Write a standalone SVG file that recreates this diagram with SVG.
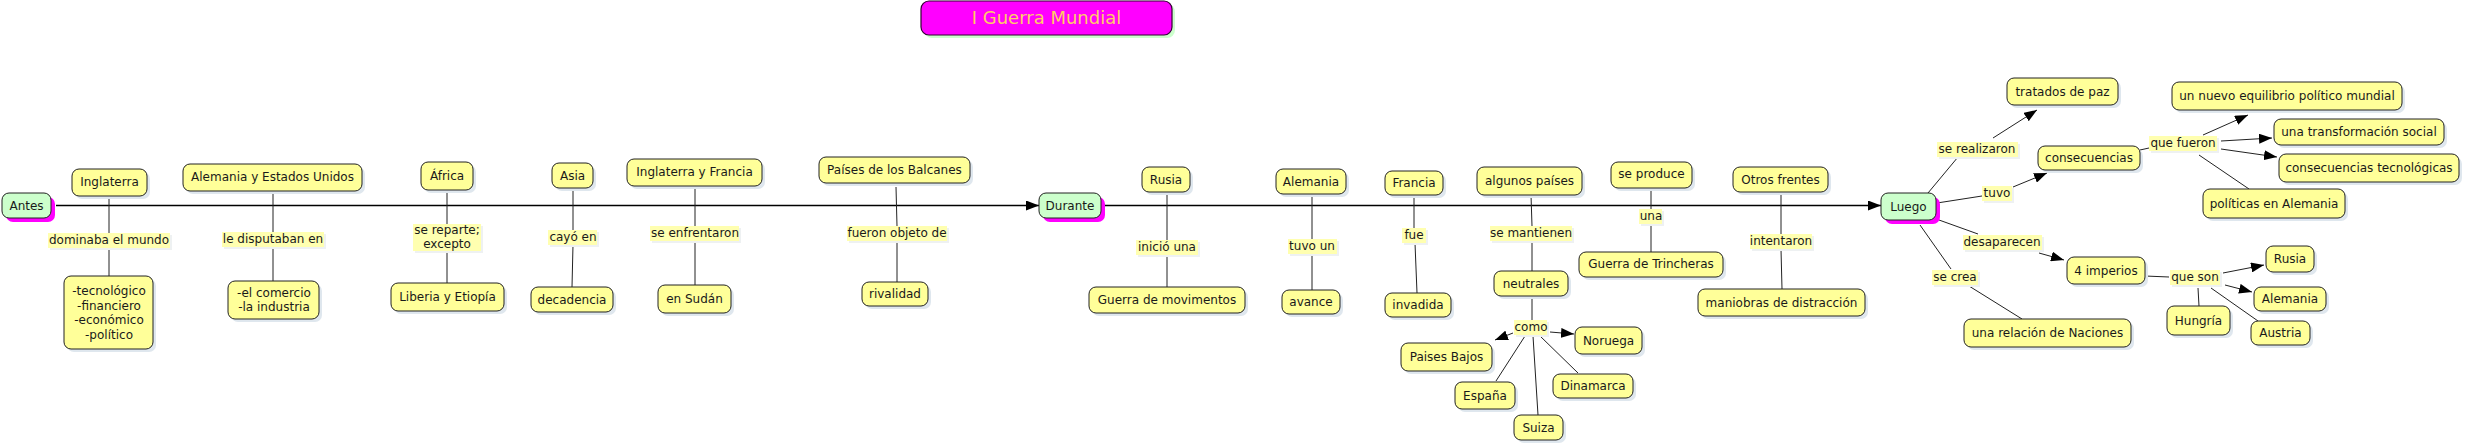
<svg xmlns="http://www.w3.org/2000/svg" width="2466" height="446" viewBox="0 0 2466 446">
<style>
.n{fill:#ffff99;stroke:#222;stroke-width:1}
.sh{fill:#dfe7ee}
.g{fill:#ccffcc;stroke:#222;stroke-width:1}
.gs{fill:#ff00ff}
.t{font-family:"DejaVu Sans",Verdana,sans-serif;font-size:12px;fill:#1a1a1a;text-anchor:middle}
.lb{fill:#ffffb0}
.ls{fill:#eef1f2}
.c{stroke:#222;stroke-width:1;fill:none}
.m{stroke:#000;stroke-width:1.3;fill:none}
</style>
<defs>
<marker id="ah" markerWidth="13" markerHeight="10" refX="13" refY="5" orient="auto" markerUnits="userSpaceOnUse"><path d="M0,0 L13,5 L0,10 z" fill="#000"/></marker>
</defs>
<rect width="2466" height="446" fill="#fff"/>

<g id="connectors">
<line class="m" x1="56" y1="205.5" x2="1039" y2="205.5" marker-end="url(#ah)"/>
<line class="m" x1="1105" y1="205.5" x2="1881" y2="205.5" marker-end="url(#ah)"/>
<line class="c" x1="109" y1="196" x2="109" y2="233"/><line class="c" x1="109" y1="248" x2="109" y2="276"/>
<line class="c" x1="273" y1="191" x2="273" y2="232"/><line class="c" x1="273" y1="247" x2="273" y2="281"/>
<line class="c" x1="447" y1="190" x2="447" y2="224"/><line class="c" x1="447" y1="251" x2="447" y2="283"/>
<line class="c" x1="573" y1="188" x2="573" y2="230"/><line class="c" x1="573" y1="245" x2="572" y2="287"/>
<line class="c" x1="695" y1="186" x2="695" y2="226"/><line class="c" x1="695" y1="241" x2="695" y2="285"/>
<line class="c" x1="896" y1="187" x2="897" y2="226"/><line class="c" x1="897" y1="241" x2="897" y2="282"/>
<line class="c" x1="1167" y1="192" x2="1167" y2="240"/><line class="c" x1="1167" y1="255" x2="1167" y2="287"/>
<line class="c" x1="1312" y1="194" x2="1312" y2="239"/><line class="c" x1="1312" y1="254" x2="1312" y2="290"/>
<line class="c" x1="1414" y1="197" x2="1414" y2="228"/><line class="c" x1="1415" y1="243" x2="1417" y2="293"/>
<line class="c" x1="1531" y1="195" x2="1532" y2="226"/><line class="c" x1="1532" y1="241" x2="1532" y2="271"/>
<line class="c" x1="1532" y1="296" x2="1532" y2="320"/>
<line class="c" x1="1513" y1="333" x2="1495" y2="340" marker-end="url(#ah)"/>
<line class="c" x1="1550" y1="332" x2="1574" y2="334" marker-end="url(#ah)"/>
<line class="c" x1="1525" y1="336" x2="1496" y2="381"/>
<line class="c" x1="1533" y1="336" x2="1538" y2="415"/>
<line class="c" x1="1539" y1="335" x2="1578" y2="373"/>
<line class="c" x1="1651" y1="188" x2="1651" y2="209"/><line class="c" x1="1651" y1="224" x2="1651" y2="252"/>
<line class="c" x1="1781" y1="192" x2="1781" y2="234"/><line class="c" x1="1781" y1="249" x2="1782" y2="289"/>
<line class="c" x1="1928" y1="193" x2="1958" y2="157"/><line class="c" x1="1993" y1="138" x2="2037" y2="110" marker-end="url(#ah)"/>
<line class="c" x1="1937" y1="203" x2="1982" y2="196"/><line class="c" x1="2013" y1="187" x2="2047" y2="173" marker-end="url(#ah)"/>
<line class="c" x1="2140" y1="150" x2="2149" y2="148"/>
<line class="c" x1="2203" y1="135" x2="2248" y2="115" marker-end="url(#ah)"/>
<line class="c" x1="2221" y1="141" x2="2272" y2="138" marker-end="url(#ah)"/>
<line class="c" x1="2221" y1="149" x2="2277" y2="157" marker-end="url(#ah)"/>
<line class="c" x1="2199" y1="155" x2="2249" y2="189"/>
<line class="c" x1="1939" y1="220" x2="1978" y2="234"/><line class="c" x1="2039" y1="253" x2="2064" y2="260" marker-end="url(#ah)"/>
<line class="c" x1="2145" y1="276" x2="2169" y2="277"/>
<line class="c" x1="2223" y1="273" x2="2264" y2="265" marker-end="url(#ah)"/>
<line class="c" x1="2225" y1="285" x2="2252" y2="292" marker-end="url(#ah)"/>
<line class="c" x1="2198" y1="288" x2="2199" y2="306"/>
<line class="c" x1="2211" y1="288" x2="2258" y2="321"/>
<line class="c" x1="1920" y1="225" x2="1951" y2="269"/><line class="c" x1="1969" y1="286" x2="2022" y2="319"/>
</g>

<g id="labels">
<rect class="ls" x="50" y="235" width="122" height="15"/><rect class="lb" x="48" y="233" width="122" height="15"/><text class="t" x="109" y="244">dominaba el mundo</text>
<rect class="ls" x="224" y="234" width="102" height="15"/><rect class="lb" x="222" y="232" width="102" height="15"/><text class="t" x="273" y="243">le disputaban en</text>
<rect class="ls" x="415" y="226" width="68" height="27"/><rect class="lb" x="413" y="224" width="68" height="27"/><text class="t" x="447" y="234">se reparte;<tspan x="447" dy="14">excepto</tspan></text>
<rect class="ls" x="550" y="232" width="49" height="15"/><rect class="lb" x="548" y="230" width="49" height="15"/><text class="t" x="573" y="241">cayó en</text>
<rect class="ls" x="652" y="228" width="89" height="15"/><rect class="lb" x="650" y="226" width="89" height="15"/><text class="t" x="695" y="237">se enfrentaron</text>
<rect class="ls" x="849" y="228" width="100" height="15"/><rect class="lb" x="847" y="226" width="100" height="15"/><text class="t" x="897" y="237">fueron objeto de</text>
<rect class="ls" x="1138" y="242" width="62" height="15"/><rect class="lb" x="1136" y="240" width="62" height="15"/><text class="t" x="1167" y="251">inició una</text>
<rect class="ls" x="1290" y="241" width="49" height="15"/><rect class="lb" x="1288" y="239" width="49" height="15"/><text class="t" x="1312" y="250">tuvo un</text>
<rect class="ls" x="1404" y="230" width="24" height="15"/><rect class="lb" x="1402" y="228" width="24" height="15"/><text class="t" x="1414" y="239">fue</text>
<rect class="ls" x="1492" y="228" width="82" height="15"/><rect class="lb" x="1490" y="226" width="82" height="15"/><text class="t" x="1531" y="237">se mantienen</text>
<rect class="ls" x="1516" y="322" width="33" height="15"/><rect class="lb" x="1514" y="320" width="33" height="15"/><text class="t" x="1531" y="331">como</text>
<rect class="ls" x="1641" y="211" width="23" height="15"/><rect class="lb" x="1639" y="209" width="23" height="15"/><text class="t" x="1651" y="220">una</text>
<rect class="ls" x="1752" y="236" width="62" height="15"/><rect class="lb" x="1750" y="234" width="62" height="15"/><text class="t" x="1781" y="245">intentaron</text>
<rect class="ls" x="1939" y="144" width="81" height="15"/><rect class="lb" x="1937" y="142" width="81" height="15"/><text class="t" x="1977" y="153">se realizaron</text>
<rect class="ls" x="1984" y="188" width="30" height="15"/><rect class="lb" x="1982" y="186" width="30" height="15"/><text class="t" x="1997" y="197">tuvo</text>
<rect class="ls" x="2151" y="138" width="68" height="15"/><rect class="lb" x="2149" y="136" width="68" height="15"/><text class="t" x="2183" y="147">que fueron</text>
<rect class="ls" x="1965" y="237" width="79" height="15"/><rect class="lb" x="1963" y="235" width="79" height="15"/><text class="t" x="2002" y="246">desaparecen</text>
<rect class="ls" x="1934" y="272" width="46" height="15"/><rect class="lb" x="1932" y="270" width="46" height="15"/><text class="t" x="1955" y="281">se crea</text>
<rect class="ls" x="2172" y="272" width="50" height="15"/><rect class="lb" x="2170" y="270" width="50" height="15"/><text class="t" x="2195" y="281">que son</text>
</g>

<g id="title"><rect x="924" y="4" width="251" height="34" rx="8" fill="#ccffcc"/><rect x="921" y="1" width="251" height="34" rx="8" fill="#ff00ff" stroke="#330033" stroke-width="1.2"/><text x="1046.5" y="24" font-family="DejaVu Sans,Verdana,sans-serif" font-size="18" fill="#ffcc66" text-anchor="middle">I Guerra Mundial</text></g>

<g id="antes"><rect class="gs" x="6" y="197" width="49" height="25" rx="7"/><rect class="g" x="2" y="193" width="49" height="25" rx="7"/><text class="t" x="26.5" y="210">Antes</text></g>
<g id="durante"><rect class="gs" x="1043" y="197" width="62" height="25" rx="7"/><rect class="g" x="1039" y="193" width="62" height="25" rx="7"/><text class="t" x="1070" y="210">Durante</text></g>
<g id="luego"><rect class="gs" x="1885" y="197" width="55" height="27" rx="7"/><rect class="g" x="1881" y="193" width="55" height="27" rx="7"/><text class="t" x="1908.5" y="211">Luego</text></g>

<g id="inglaterra"><rect class="sh" x="75" y="172" width="75" height="27" rx="7"/><rect class="n" x="72" y="169" width="75" height="27" rx="7"/><text class="t" x="109.5" y="186">Inglaterra</text></g>
<g id="alemania-eeuu"><rect class="sh" x="186" y="167" width="179" height="27" rx="7"/><rect class="n" x="183" y="164" width="179" height="27" rx="7"/><text class="t" x="272.5" y="181">Alemania y Estados Unidos</text></g>
<g id="africa"><rect class="sh" x="424" y="165" width="52" height="28" rx="7"/><rect class="n" x="421" y="162" width="52" height="28" rx="7"/><text class="t" x="447" y="180">África</text></g>
<g id="tecnologico"><rect class="sh" x="67" y="279" width="89" height="73" rx="7"/><rect class="n" x="64" y="276" width="89" height="73" rx="7"/><text class="t" x="109" y="295">-tecnológico<tspan x="109" dy="14.5">-financiero</tspan><tspan x="109" dy="14.5">-económico</tspan><tspan x="109" dy="14.5">-político</tspan></text></g>
<g id="comercio"><rect class="sh" x="231" y="284" width="91" height="38" rx="7"/><rect class="n" x="228" y="281" width="91" height="38" rx="7"/><text class="t" x="274" y="297">-el comercio<tspan x="274" dy="14">-la industria</tspan></text></g>
<g id="liberia"><rect class="sh" x="394" y="286" width="113" height="28" rx="7"/><rect class="n" x="391" y="283" width="113" height="28" rx="7"/><text class="t" x="447.5" y="301">Liberia y Etiopía</text></g>
<g id="asia"><rect class="sh" x="555" y="166" width="41" height="25" rx="7"/><rect class="n" x="552" y="163" width="41" height="25" rx="7"/><text class="t" x="572.5" y="180">Asia</text></g>
<g id="decadencia"><rect class="sh" x="534" y="290" width="82" height="25" rx="7"/><rect class="n" x="531" y="287" width="82" height="25" rx="7"/><text class="t" x="572" y="304">decadencia</text></g>
<g id="inglaterra-francia"><rect class="sh" x="630" y="162" width="135" height="27" rx="7"/><rect class="n" x="627" y="159" width="135" height="27" rx="7"/><text class="t" x="694.5" y="176">Inglaterra y Francia</text></g>
<g id="sudan"><rect class="sh" x="661" y="288" width="73" height="28" rx="7"/><rect class="n" x="658" y="285" width="73" height="28" rx="7"/><text class="t" x="694.5" y="303">en Sudán</text></g>
<g id="balcanes"><rect class="sh" x="822" y="160" width="151" height="26" rx="7"/><rect class="n" x="819" y="157" width="151" height="26" rx="7"/><text class="t" x="894.5" y="174">Países de los Balcanes</text></g>
<g id="rivalidad"><rect class="sh" x="865" y="285" width="66" height="24" rx="7"/><rect class="n" x="862" y="282" width="66" height="24" rx="7"/><text class="t" x="895" y="298">rivalidad</text></g>
<g id="rusia"><rect class="sh" x="1145" y="170" width="48" height="25" rx="7"/><rect class="n" x="1142" y="167" width="48" height="25" rx="7"/><text class="t" x="1166" y="184">Rusia</text></g>
<g id="movimentos"><rect class="sh" x="1092" y="290" width="156" height="26" rx="7"/><rect class="n" x="1089" y="287" width="156" height="26" rx="7"/><text class="t" x="1167" y="304">Guerra de movimentos</text></g>
<g id="alemania"><rect class="sh" x="1279" y="172" width="70" height="25" rx="7"/><rect class="n" x="1276" y="169" width="70" height="25" rx="7"/><text class="t" x="1311" y="186">Alemania</text></g>
<g id="avance"><rect class="sh" x="1285" y="293" width="58" height="24" rx="7"/><rect class="n" x="1282" y="290" width="58" height="24" rx="7"/><text class="t" x="1311" y="306">avance</text></g>
<g id="francia"><rect class="sh" x="1388" y="174" width="58" height="24" rx="7"/><rect class="n" x="1385" y="171" width="58" height="24" rx="7"/><text class="t" x="1414" y="187">Francia</text></g>
<g id="invadida"><rect class="sh" x="1388" y="296" width="66" height="24" rx="7"/><rect class="n" x="1385" y="293" width="66" height="24" rx="7"/><text class="t" x="1418" y="309">invadida</text></g>
<g id="algunos"><rect class="sh" x="1480" y="170" width="105" height="28" rx="7"/><rect class="n" x="1477" y="167" width="105" height="28" rx="7"/><text class="t" x="1529.5" y="185">algunos países</text></g>
<g id="neutrales"><rect class="sh" x="1497" y="274" width="74" height="25" rx="7"/><rect class="n" x="1494" y="271" width="74" height="25" rx="7"/><text class="t" x="1531" y="288">neutrales</text></g>
<g id="paises-bajos"><rect class="sh" x="1404" y="346" width="91" height="28" rx="7"/><rect class="n" x="1401" y="343" width="91" height="28" rx="7"/><text class="t" x="1446.5" y="361">Paises Bajos</text></g>
<g id="noruega"><rect class="sh" x="1578" y="330" width="67" height="27" rx="7"/><rect class="n" x="1575" y="327" width="67" height="27" rx="7"/><text class="t" x="1608.5" y="345">Noruega</text></g>
<g id="espana"><rect class="sh" x="1458" y="385" width="60" height="27" rx="7"/><rect class="n" x="1455" y="382" width="60" height="27" rx="7"/><text class="t" x="1485" y="400">España</text></g>
<g id="suiza"><rect class="sh" x="1517" y="418" width="49" height="25" rx="7"/><rect class="n" x="1514" y="415" width="49" height="25" rx="7"/><text class="t" x="1538.5" y="432">Suiza</text></g>
<g id="dinamarca"><rect class="sh" x="1556" y="377" width="80" height="24" rx="7"/><rect class="n" x="1553" y="374" width="80" height="24" rx="7"/><text class="t" x="1593" y="390">Dinamarca</text></g>
<g id="se-produce"><rect class="sh" x="1614" y="165" width="81" height="26" rx="7"/><rect class="n" x="1611" y="162" width="81" height="26" rx="7"/><text class="t" x="1651.5" y="178">se produce</text></g>
<g id="trincheras"><rect class="sh" x="1582" y="255" width="144" height="25" rx="7"/><rect class="n" x="1579" y="252" width="144" height="25" rx="7"/><text class="t" x="1651" y="268">Guerra de Trincheras</text></g>
<g id="otros-frentes"><rect class="sh" x="1736" y="170" width="95" height="25" rx="7"/><rect class="n" x="1733" y="167" width="95" height="25" rx="7"/><text class="t" x="1780.5" y="184">Otros frentes</text></g>
<g id="maniobras"><rect class="sh" x="1701" y="292" width="167" height="27" rx="7"/><rect class="n" x="1698" y="289" width="167" height="27" rx="7"/><text class="t" x="1781.5" y="307">maniobras de distracción</text></g>
<g id="tratados"><rect class="sh" x="2010" y="81" width="111" height="27" rx="7"/><rect class="n" x="2007" y="78" width="111" height="27" rx="7"/><text class="t" x="2062.5" y="96">tratados de paz</text></g>
<g id="consecuencias"><rect class="sh" x="2041" y="149" width="102" height="24" rx="7"/><rect class="n" x="2038" y="146" width="102" height="24" rx="7"/><text class="t" x="2089" y="162">consecuencias</text></g>
<g id="equilibrio"><rect class="sh" x="2175" y="85" width="230" height="28" rx="7"/><rect class="n" x="2172" y="82" width="230" height="28" rx="7"/><text class="t" x="2287" y="100">un nuevo equilibrio político mundial</text></g>
<g id="transformacion"><rect class="sh" x="2277" y="122" width="170" height="26" rx="7"/><rect class="n" x="2274" y="119" width="170" height="26" rx="7"/><text class="t" x="2359" y="136">una transformación social</text></g>
<g id="tecnologicas"><rect class="sh" x="2282" y="157" width="180" height="28" rx="7"/><rect class="n" x="2279" y="154" width="180" height="28" rx="7"/><text class="t" x="2369" y="172">consecuencias tecnológicas</text></g>
<g id="politicas"><rect class="sh" x="2206" y="192" width="142" height="29" rx="7"/><rect class="n" x="2203" y="189" width="142" height="29" rx="7"/><text class="t" x="2274" y="208">políticas en Alemania</text></g>
<g id="imperios"><rect class="sh" x="2070" y="260" width="78" height="27" rx="7"/><rect class="n" x="2067" y="257" width="78" height="27" rx="7"/><text class="t" x="2106" y="275">4 imperios</text></g>
<g id="rusia2"><rect class="sh" x="2269" y="249" width="48" height="26" rx="7"/><rect class="n" x="2266" y="246" width="48" height="26" rx="7"/><text class="t" x="2290" y="263">Rusia</text></g>
<g id="alemania2"><rect class="sh" x="2257" y="290" width="72" height="24" rx="7"/><rect class="n" x="2254" y="287" width="72" height="24" rx="7"/><text class="t" x="2290" y="303">Alemania</text></g>
<g id="hungria"><rect class="sh" x="2170" y="309" width="63" height="29" rx="7"/><rect class="n" x="2167" y="306" width="63" height="29" rx="7"/><text class="t" x="2198.5" y="325">Hungría</text></g>
<g id="austria"><rect class="sh" x="2254" y="324" width="59" height="24" rx="7"/><rect class="n" x="2251" y="321" width="59" height="24" rx="7"/><text class="t" x="2280.5" y="337">Austria</text></g>
<g id="naciones"><rect class="sh" x="1967" y="322" width="167" height="28" rx="7"/><rect class="n" x="1964" y="319" width="167" height="28" rx="7"/><text class="t" x="2047.5" y="337">una relación de Naciones</text></g>
</svg>
